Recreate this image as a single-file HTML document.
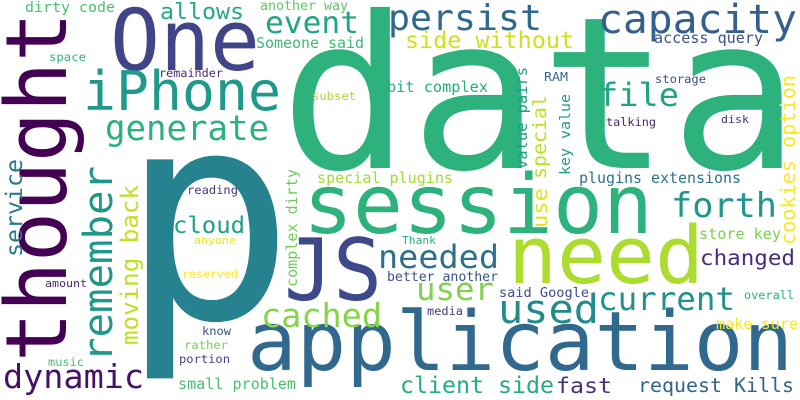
<!DOCTYPE html>
<html><head><meta charset="utf-8">
<style>
html,body{margin:0;padding:0;background:#fff;}
svg{display:block;}
text{font-family:"DejaVu Sans Mono","Liberation Mono",monospace;}
</style></head>
<body>
<svg id="cloud" width="800" height="400" viewBox="0 0 800 400" xmlns="http://www.w3.org/2000/svg">
<rect width="800" height="400" fill="#ffffff"/>
</svg>
<script>
// [word, x, baselineY, fontSize, textLength, color, vertical]
const words = [
["data",280,168,212,520,"#2db27d",0],
["p",120,318,290,175,"#26828e",0],
["session",303,233,82,350,"#2db27d",0],
["application",247,370,82,546,"#31688e",0],
["need",508,283,79,196,"#addc30",0],
["JS",284,300,86,98,"#3e4989",0],
["One",110,70,85,150,"#414487",0],
["iPhone",83,110,54,198,"#1f9a8a",0],
["generate",105,140,35,164,"#2bb07f",0],
["allows",160,19,22,84,"#22a884",0],
["event",265,33,30,94,"#21a585",0],
["dirty code",25,12,14.5,90,"#4ac16d",0],
["another way",260,10,13,88,"#5ec962",0],
["Someone said",256,48,14.7,108,"#3bbb75",0],
["space",49,61,11.7,37,"#2fb47c",0],
["remainder",159,77,11.5,64,"#472c7a",0],
["subset",312,100,11.7,44,"#a8db34",0],
["reading",187,194,11.7,51,"#443983",0],
["persist",388,30,36,154,"#30698e",0],
["capacity",598,33,40,199,"#355f8d",0],
["side without",405,48,23,169,"#d0e11c",0],
["access query",654,43,14.8,109,"#3b528b",0],
["bit complex",387,92,15,101,"#26ad81",0],
["RAM",544,81,12,24,"#31688e",0],
["storage",655,83,11.7,51,"#3e4c8a",0],
["file",598,106,32,81,"#20a386",0],
["talking",606,126,11.5,50,"#482475",0],
["disk",721,123,11,28,"#46337e",0],
["plugins extensions",579,183,14.8,162,"#2c728e",0],
["special plugins",317,183,14.8,136,"#a2da37",0],
["forth",671,217,34,106,"#1f958b",0],
["current",598,310,32,137,"#21918c",0],
["changed",700,265,21.7,95,"#472d7b",0],
["store key",699,239,14.8,82,"#7ad151",0],
["needed",378,268,32,121,"#2d708e",0],
["better another",387,281,13,111,"#3b528b",0],
["user",416,300,31,78,"#7fd34e",0],
["used",498,323,40,101,"#228c8d",0],
["said Google",499,297,13.3,90,"#3d4e8a",0],
["Thank",402,244,10.7,34,"#27ad81",0],
["overall",744,299,11.4,50,"#2ab07f",0],
["media",427,315,11.3,36,"#443a83",0],
["make sure",716,329,14.8,82,"#f8e621",0],
["client side",400,393,22.7,154,"#25ac82",0],
["fast",556,393,21.7,56,"#472f7d",0],
["request Kills",638,392,19.5,156,"#33638d",0],
["cloud",173,233,22.7,72,"#1fa187",0],
["anyone",194,244,11,42,"#f1e51d",0],
["reserved",182,278,11.3,56,"#fde725",0],
["amount",45,287,11,42,"#482878",0],
["cached",261,327,32.5,121,"#86d549",0],
["know",202,335,11.3,29,"#3a538b",0],
["rather",184,349,11.7,44,"#75d054",0],
["portion",179,363,11.7,51,"#414487",0],
["music",48,366,11.3,36,"#4ac16d",0],
["dynamic",3,388,32.6,141,"#471164",0],
["small problem",178,389,14.8,118,"#46c06f",0],
["thought",66,362,85,350,"#440154",1],
["remember",112,362,40,196,"#1f988b",1],
["service",22,257,22.7,98,"#2a788e",1],
["moving back",138,345,23.6,160,"#c2df23",1],
["complex dirty",297,287,14.8,118,"#6ece58",1],
["value pairs",527,169,15,102,"#1f9e89",1],
["special",546,179,19,84,"#bddf26",1],
["use",547,228,20,40,"#e2e418",1],
["key value",570,175,14.5,81,"#1f9a8a",1],
["cookies option",795,245,20,170,"#fde725",1]
];
const svg = document.getElementById('cloud');
const NS = 'http://www.w3.org/2000/svg';
for (const w of words) {
  const el = document.createElementNS(NS, 'text');
  el.textContent = w[0];
  el.setAttribute('font-size', w[3]);
  el.setAttribute('fill', w[5]);
  el.setAttribute('textLength', w[4]);
  el.setAttribute('lengthAdjust', 'spacingAndGlyphs');
  if (w[6]) {
    el.setAttribute('x', 0);
    el.setAttribute('y', 0);
    el.setAttribute('transform', 'translate(' + w[1] + ',' + w[2] + ') rotate(-90)');
  } else {
    el.setAttribute('x', w[1]);
    el.setAttribute('y', w[2]);
  }
  
  
  svg.appendChild(el);
}
</script>
</body></html>
